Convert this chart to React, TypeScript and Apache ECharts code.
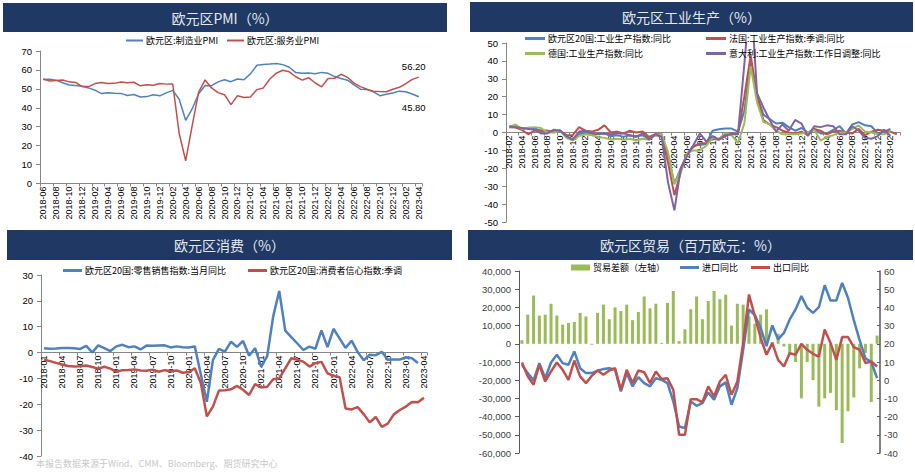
import React, { useEffect, useRef } from "react";
import * as echarts from "echarts";

function monthRange(y: number, m: number, n: number): string[] {
  const out: string[] = [];
  for (let k = 0; k < n; k++) {
    const mm = m - 1 + k;
    out.push(`${y + Math.floor(mm / 12)}-${String((mm % 12) + 1).padStart(2, "0")}`);
  }
  return out;
}

// ---------- Panel 1: PMI (2018-06 .. 2023-04)
const pmiMonths = monthRange(2018, 6, 59);
const mfgPMI = [54.9, 55.1, 54.6, 53.2, 52.0, 51.8, 51.4,
  50.5, 49.3, 47.5, 47.9, 47.7, 47.6, 46.5, 47.0, 45.7, 45.9, 46.9, 46.3,
  47.9, 49.2, 44.5, 33.4, 39.4, 47.4, 51.8, 51.7, 53.7, 54.8, 53.8, 55.2,
  54.8, 57.9, 62.5, 62.9, 63.1, 63.4, 62.8, 61.4, 58.6, 58.3, 58.4, 58.0,
  58.7, 58.2, 56.5, 55.5, 54.6, 52.1, 49.8, 49.6, 48.4, 46.4, 47.1, 47.8,
  48.8, 48.5, 47.3, 45.8];
const svcPMI = [55.2, 54.2, 54.4, 54.7, 53.7, 53.4, 51.2,
  51.2, 52.8, 53.3, 52.8, 52.9, 53.6, 53.2, 53.5, 51.6, 52.2, 51.9, 52.8,
  52.5, 52.6, 26.4, 12.0, 30.5, 48.3, 54.7, 50.5, 48.0, 46.9, 41.7, 46.4,
  45.4, 45.7, 49.6, 50.5, 55.2, 58.3, 59.8, 59.0, 56.4, 54.6, 55.9, 53.1,
  51.1, 55.5, 55.6, 57.7, 56.1, 53.0, 51.2, 49.8, 48.8, 48.6, 48.5, 49.8,
  50.8, 52.7, 55.0, 56.2];

// ---------- Panel 2: industrial production yoy (2018-02 .. 2023-03)
const ipMonths = monthRange(2018, 2, 62);
const ipEZ = [3.2, 3.4, 2.0, 2.6, 2.5, 0.6, 1.0, 0.6, 1.2, -2.5, -3.8,
  -0.8, -0.2, -0.5, -0.6, -0.5, -2.0, -1.6, -2.3, -1.7, -2.1, -1.6, -3.5,
  -1.5, -1.8, -12.5, -28.5, -20.0, -12.0, -7.2, -7.0, -6.4, 1.0, 1.8, 2.2,
  2.2, 0.5, 12.0, 39.0, 20.5, 10.0, 7.5, 5.0, 5.5, 3.0, 1.0, 2.5,
  0.0, 2.0, -0.5, -0.5, 1.5, 3.5, -0.5, 4.5, 5.8, 4.0, 3.5, -0.5,
  0.5, 2.0, null];
const ipFR = [3.0, 2.8, 1.5, -1.0, 1.0, 1.2, 1.0, 0.0, 1.0, -1.5, -1.5,
  3.0, 1.0, 0.5, 1.5, 4.0, 0.0, 0.5, -0.5, 1.0, 0.0, 0.5, -2.5,
  -1.0, -1.0, -17.0, -35.0, -22.0, -12.0, -8.0, -6.0, -6.0, -3.5, -4.0, -2.0,
  -0.5, -1.0, 20.0, 43.0, 21.0, 7.0, 4.5, 3.0, 1.0, 0.0, -0.5, 0.5,
  -1.5, 2.0, 1.0, -1.0, 0.5, 1.0, 0.0, -0.5, 2.0, -1.5, 0.5, 1.5,
  1.0, 0.5, -1.0];
const ipDE = [3.0, 4.5, 2.0, 2.5, 3.0, 2.5, 0.0, 0.0, 1.0, -3.0, -4.5,
  -2.0, -1.0, -1.5, -2.5, -3.0, -4.0, -3.5, -4.0, -3.5, -4.5, -3.5, -4.0,
  -1.5, -1.0, -11.0, -29.0, -21.0, -11.5, -10.0, -10.0, -7.5, -3.0, -3.5, -0.5,
  -1.5, -6.0, 5.0, 37.0, 17.0, 6.0, 4.5, 1.0, -1.0, -1.0, -1.0, -0.5,
  0.0, 1.5, -4.5, -2.5, -1.5, 0.0, 0.0, 2.0, 4.0, 0.5, 0.0, -1.0,
  -1.0, 0.5, null];
const ipIT = [3.5, 3.0, 2.5, 2.0, 1.5, -0.5, -0.5, 1.5, 1.0, -2.0, -4.0,
  0.5, 1.0, -0.5, -1.0, -0.5, -1.0, -0.5, -0.5, -1.5, -2.5, -0.5, -4.0,
  -1.0, -2.5, -28.0, -43.5, -20.0, -13.0, -7.0, -0.5, -5.0, -2.0, -4.0, -1.5,
  -1.0, -1.0, 38.0, 80.0, 22.0, 14.0, 7.0, 0.5, 4.5, 1.0, 7.0, 5.0,
  -2.0, 3.5, 3.0, 4.0, 3.5, -1.0, -1.0, 3.5, 1.0, -3.0, -3.5, -2.0,
  1.5, -2.0, null];

// ---------- Panel 3: consumption (2018-01 .. 2023-04)
const consMonths = monthRange(2018, 1, 64);
const retailYoY = [1.7, 1.5, 1.6, 1.8, 1.8, 1.7, 1.4, 2.6, 0.1, 2.8, 1.7, 0.6,
  2.4, 3.0, 2.1, 2.4, 1.2, 2.7, 2.6, 2.7, 2.8, 2.0, 2.4, 2.1,
  2.0, 2.4, -8.5, -19.0, -2.9, 1.4, 0.4, 4.2, 2.2, 4.5, -1.2, 1.7,
  -5.5, -1.4, 14.0, 23.8, 8.5, 6.0, 3.5, 1.0, 2.3, 1.5, 8.6, 2.1,
  9.2, 5.5, 1.8, 4.6, 0.2, -3.0, -0.8, -1.0, 0.3, -2.8, -2.7, -2.7,
  -1.8, -2.2, -4.0, null];
const consumerConf = [-2.8, -3.3, -4.0, -4.6, -5.2, -5.4, -5.3, -5.0, -5.6, -6.2, -5.5, -6.2,
  -7.4, -6.8, -6.7, -6.5, -6.9, -7.0, -6.6, -7.4, -6.8, -7.2, -6.9, -7.8,
  -7.5, -6.1, -11.8, -24.7, -20.9, -14.7, -14.6, -14.2, -12.9, -14.4, -16.4, -12.2,
  -13.5, -13.2, -10.3, -10.0, -6.1, -2.2, -2.8, -3.5, -5.4, -4.1, -3.6, -8.0,
  -9.0, -9.5, -21.6, -22.0, -21.1, -23.8, -27.0, -24.9, -28.7, -27.5, -23.9, -22.2,
  -20.9, -19.1, -19.2, -17.5];

// ---------- Panel 4: trade (2018-01 .. 2023-02)
const tradeMonths = monthRange(2018, 1, 62);
const tradeBalance = [2000, 16000, 26500, 15500, 16000, 22000, 15500, 10500, 11500, 12000, 17000, 15000,
  -500, 17000, 21500, 13500, 20000, 18000, 21500, 13000, 17500, 26000, 19500, 22000,
  500, 22500, 29000, 1500, 8000, 19000, 26000, 13500, 23500, 29000, 24500, 27000,
  10000, 22000, 21500, 15000, 11000, 16000, 19000, 1000, 5500, -1500, -6000, -10000,
  -30000, -10000, -20000, -34500, -30000, -27000, -36500, -54500, -37000, -29500, -13500, -5000,
  -32000, 4500];
const importYoY = [8.5, 3.9, -0.1, 9.4, 1.1, 9.7, 14.0, 9.4, 8.5, 15.8, 6.6, 3.9,
  3.9, 5.3, 6.1, 6.6, 5.7, -6.2, 3.9, -3.4, 1.7, -1.6, -3.4, 1.1,
  0.2, -1.6, -11.7, -25.4, -26.3, -11.7, -14.1, -12.6, -6.7, -10.8, -3.4, -1.2,
  -13.5, -4.4, 16.7, 38.9, 35.8, 28.8, 18.7, 30.1, 22.4, 26.0, 33.4, 38.9,
  46.2, 39.8, 37.0, 40.1, 52.2, 43.8, 43.8, 53.5, 45.3, 33.0, 22.0, 12.0,
  10.0, 1.1];
const exportYoY = [9.7, 2.1, -2.5, 8.5, -0.7, 4.8, 9.7, 5.7, 0.2, 10.8, 2.1, -1.6,
  2.4, 5.3, 3.0, 5.3, 6.6, -5.3, 5.7, -1.6, 5.3, 4.4, -1.6, 4.8,
  0.6, 1.1, -5.3, -30.0, -30.0, -10.4, -10.4, -12.2, -3.4, -8.9, -0.7, 3.0,
  -8.0, -0.7, 20.4, 47.1, 35.2, 23.3, 14.0, 20.4, 11.2, 7.5, 14.9, 14.0,
  20.0, 16.7, 14.5, 13.0, 27.9, 20.5, 11.2, 23.7, 23.7, 18.2, 16.7, 9.4,
  10.3, 7.5];

const BLUE = "#4f81bd";
const RED = "#c0504d";
const GREEN = "#9bbb59";
const PURPLE = "#8064a2";
const NAVY = "#1f3864";
const AXIS_GRAY = "#868686";
const LAT = "'Liberation Sans', Arial, sans-serif";
const CJK = "'Noto Sans CJK SC', sans-serif";

// grid boxes (left, top, width, height) and value ranges
const G1 = { left: 40, top: 51, width: 382, height: 132.5 };
const G2 = { left: 506, top: 43, width: 394, height: 179 };
const G3 = { left: 41, top: 275, width: 386, height: 181 };
const G4 = { left: 519, top: 271, width: 361, height: 182 };
const Y2 = { min: -50, max: 50 };
const Y3 = { min: -40, max: 30 };

function titleBar(x: number, y: number, w: number, h: number, text: string) {
  return [
    { type: "rect", shape: { x, y, width: w, height: h }, style: { fill: NAVY }, silent: true },
    {
      type: "text", x: x + w / 2, y: y + h / 2, silent: true,
      style: { text, fill: "#e4e8ee", font: `14px ${CJK}`, align: "center", verticalAlign: "middle" },
    },
  ];
}

function legendAt(name: string, left: number, cy: number, w: number, h: number) {
  return {
    data: [{ name, icon: "rect" }], left, top: cy - 7, itemWidth: w, itemHeight: h, itemGap: 0,
    selectedMode: false, padding: 0,
    textStyle: { fontFamily: CJK, fontSize: 9, color: "#000", padding: [0, 0, 0, -2] },
  };
}

// offset that moves a bottom category axis up to the value 0 of the value axis
function zeroOffset(g: { height: number }, y: { min: number; max: number }) {
  return -g.height * (0 - y.min) / (y.max - y.min);
}

function catAxis(gridIndex: number, data: string[], labelInterval: number, offset = 0) {
  return {
    type: "category", gridIndex, data, boundaryGap: true, position: "bottom", offset,
    axisLine: { show: true, onZero: false, lineStyle: { color: AXIS_GRAY } },
    axisTick: { show: true, interval: labelInterval, length: 3, lineStyle: { color: AXIS_GRAY } },
    axisLabel: { interval: labelInterval, rotate: 90, fontSize: 9, fontFamily: LAT, color: "#000", margin: 3 },
    splitLine: { show: false },
  };
}

function valAxis(gridIndex: number, min: number, max: number, interval: number, extra: any = {}) {
  return {
    type: "value", gridIndex, min, max, interval,
    axisLine: { show: true, lineStyle: { color: AXIS_GRAY } },
    axisTick: { show: true, length: 4, lineStyle: { color: AXIS_GRAY } },
    axisLabel: { fontSize: 9.5, fontFamily: LAT, color: "#000", margin: 8 },
    splitLine: { show: false },
    ...extra,
  };
}

function lineSeries(name: string, data: any[], color: string, width: number, xi: number, yi: number) {
  return {
    type: "line", name, data, xAxisIndex: xi, yAxisIndex: yi, symbol: "none", smooth: false,
    connectNulls: false, lineStyle: { color, width }, itemStyle: { color }, z: 3,
  };
}

function endMark(months: string[], arr: number[], pos: string) {
  const last = arr.length - 1;
  return {
    symbol: "circle", symbolSize: 2, silent: true,
    itemStyle: { color: "rgba(0,0,0,0)" },
    label: {
      show: true, position: pos, distance: 5, offset: [-5, 0],
      formatter: arr[last].toFixed(2), fontSize: 9.5, fontFamily: LAT, color: "#000",
    },
    data: [{ coord: [months[last], arr[last]] }],
  };
}

export default function App() {
  const ref = useRef<HTMLDivElement>(null);

  useEffect(() => {
    if (!ref.current) return;
    const chart = echarts.init(ref.current, undefined, { renderer: "svg" });

    const mfg: any = lineSeries("欧元区:制造业PMI", mfgPMI, BLUE, 1.5, 0, 0);
    mfg.markPoint = endMark(pmiMonths, mfgPMI, "bottom");
    const svc: any = lineSeries("欧元区:服务业PMI", svcPMI, RED, 1.5, 0, 0);
    svc.markPoint = endMark(pmiMonths, svcPMI, "top");

    const option: any = {
      animation: false,
      backgroundColor: "#ffffff",
      graphic: [
        ...titleBar(3, 3, 444, 29, "欧元区PMI（%）"),
        ...titleBar(470, 2, 443, 30, "欧元区工业生产（%）"),
        ...titleBar(7, 230, 445, 30, "欧元区消费（%）"),
        ...titleBar(468, 230, 445, 30, "欧元区贸易（百万欧元：%）"),
        {
          type: "text", x: 36, y: 459, silent: true,
          style: {
            text: "本报告数据来源于Wind、CMM、Bloomberg、期货研究中心", fill: "#c8c8c8",
            font: `9px ${CJK}`, verticalAlign: "top",
          },
        },
      ],
      legend: [
        legendAt("欧元区:制造业PMI", 126, 43, 17, 2),
        legendAt("欧元区:服务业PMI", 227, 43, 17, 2),
        legendAt("欧元区20国:工业生产指数:同比", 525, 41, 20, 3),
        legendAt("法国:工业生产指数:季调:同比", 706, 41, 20, 3),
        legendAt("德国:工业生产指数:同比", 525, 56, 20, 3),
        legendAt("意大利:工业生产指数:工作日调整:同比", 706, 56, 20, 3),
        legendAt("欧元区20国:零售销售指数:当月同比", 63, 273, 19, 3),
        legendAt("欧元区20国:消费者信心指数:季调", 248, 273, 19, 3),
        legendAt("贸易差额（左轴）", 571, 270, 19, 6),
        legendAt("进口同比", 680, 270, 19, 3),
        legendAt("出口同比", 751, 270, 19, 3),
      ],
      grid: [
        { ...G1, containLabel: false, outerBoundsMode: "none" },
        { ...G2, containLabel: false, outerBoundsMode: "none" },
        { ...G3, containLabel: false, outerBoundsMode: "none" },
        { ...G4, containLabel: false, outerBoundsMode: "none" },
      ],
      xAxis: [
        catAxis(0, pmiMonths, 1),
        catAxis(1, ipMonths, 1, zeroOffset(G2, Y2)),
        catAxis(2, consMonths, 2, zeroOffset(G3, Y3)),
        { type: "category", gridIndex: 3, data: tradeMonths, boundaryGap: true, show: false },
      ],
      yAxis: [
        valAxis(0, 0, 70, 10),
        valAxis(1, Y2.min, Y2.max, 10),
        valAxis(2, Y3.min, Y3.max, 10),
        valAxis(3, -60000, 40000, 10000, {
          axisLine: { show: true, lineStyle: { color: "#595959" } },
          axisTick: { show: true, length: 4, lineStyle: { color: "#595959" } },
          axisLabel: {
            fontSize: 9.5, fontFamily: LAT, color: "#404040", margin: 8,
            formatter: (v: number) => v.toLocaleString("en-US"),
          },
        }),
        valAxis(3, -40, 60, 10, {
          position: "right",
          axisLine: { show: true, lineStyle: { color: "#595959", width: 1.5 } },
          axisTick: { show: true, inside: true, length: 3, lineStyle: { color: "#595959" } },
          axisLabel: { fontSize: 9.5, fontFamily: LAT, color: "#404040", margin: 4 },
        }),
      ],
      series: [
        mfg,
        svc,

        lineSeries("欧元区20国:工业生产指数:同比", ipEZ, BLUE, 2, 1, 1),
        lineSeries("法国:工业生产指数:季调:同比", ipFR, RED, 2, 1, 1),
        lineSeries("德国:工业生产指数:同比", ipDE, GREEN, 2, 1, 1),
        lineSeries("意大利:工业生产指数:工作日调整:同比", ipIT, PURPLE, 2, 1, 1),

        lineSeries("欧元区20国:零售销售指数:当月同比", retailYoY, BLUE, 2.5, 2, 2),
        lineSeries("欧元区20国:消费者信心指数:季调", consumerConf, RED, 2.5, 2, 2),

        {
          type: "bar", name: "贸易差额（左轴）", data: tradeBalance, xAxisIndex: 3, yAxisIndex: 3,
          barWidth: 3, itemStyle: { color: GREEN }, z: 2,
        },
        lineSeries("进口同比", importYoY, BLUE, 2.5, 3, 4),
        lineSeries("出口同比", exportYoY, RED, 2.5, 3, 4),
      ],
    };

    chart.setOption(option);
    return () => chart.dispose();
  }, []);

  return (
    <div
      ref={ref}
      style={{ position: "absolute", left: 0, top: 0, width: 915, height: 472, background: "#fff" }}
    />
  );
}
